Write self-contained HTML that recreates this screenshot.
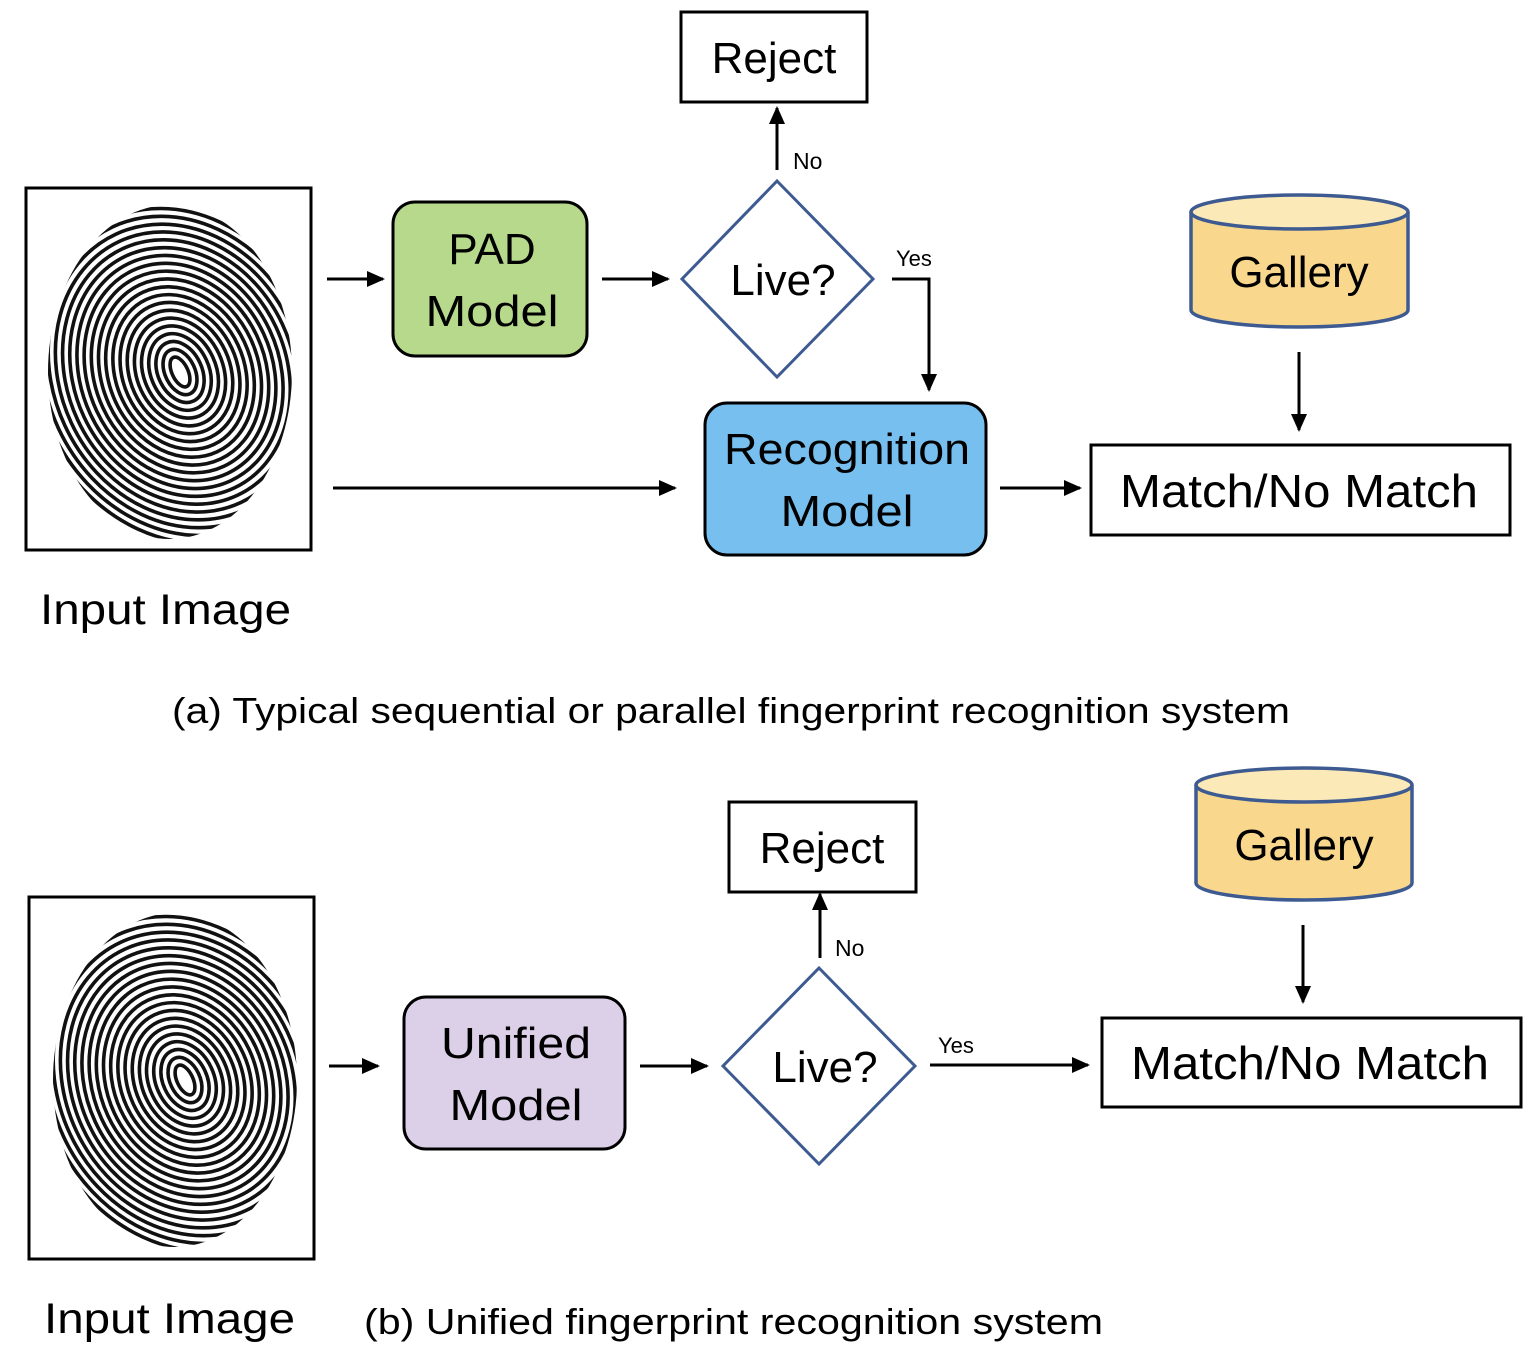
<!DOCTYPE html>
<html><head><meta charset="utf-8"><style>
html,body{margin:0;padding:0;background:#fff}
svg{display:block}
text{font-family:"Liberation Sans","DejaVu Sans",sans-serif;fill:#000}
</style></head><body>
<svg width="1534" height="1366" viewBox="0 0 1534 1366" xmlns="http://www.w3.org/2000/svg">
<defs>
<marker id="ah" markerWidth="18" markerHeight="18" refX="16" refY="9" orient="auto" markerUnits="userSpaceOnUse" viewBox="0 0 18 18">
<path d="M0,1 L18,9 L0,17 z" fill="#000"/>
</marker>
<clipPath id="fpc"><ellipse cx="0" cy="0" rx="122" ry="167"/></clipPath>
<g id="fp">
<g clip-path="url(#fpc)" fill="none" stroke="#111" stroke-width="3.6">
<g transform="translate(10,0) rotate(-25)">
<ellipse rx="8" ry="16"/><ellipse rx="15" ry="24"/><ellipse rx="22" ry="32"/><ellipse rx="29" ry="40"/>
<ellipse rx="36" ry="48"/><ellipse rx="43" ry="56"/><ellipse rx="50" ry="64"/><ellipse rx="57" ry="72"/>
<ellipse rx="64" ry="80"/><ellipse rx="71" ry="88"/><ellipse rx="78" ry="96"/><ellipse rx="85" ry="104"/>
<ellipse rx="92" ry="112"/><ellipse rx="99" ry="120"/><ellipse rx="106" ry="128"/><ellipse rx="113" ry="136"/>
<ellipse rx="120" ry="144"/><ellipse rx="127" ry="152"/><ellipse rx="134" ry="160"/><ellipse rx="141" ry="168"/>
<ellipse rx="148" ry="176"/><ellipse rx="155" ry="184"/><ellipse rx="162" ry="192"/><ellipse rx="169" ry="200"/>
<ellipse rx="176" ry="208"/><ellipse rx="183" ry="216"/><ellipse rx="190" ry="224"/><ellipse rx="197" ry="232"/>
</g>
</g>
</g>
</defs>

<!-- ===== (a) ===== -->
<rect x="26" y="188" width="285" height="362" fill="#fff" stroke="#000" stroke-width="3"/>
<use href="#fp" transform="translate(170,372)"/>
<text x="40" y="624" font-size="43" textLength="251" lengthAdjust="spacingAndGlyphs">Input Image</text>

<line x1="327" y1="279" x2="383" y2="279" stroke="#000" stroke-width="3" marker-end="url(#ah)"/>
<rect x="393" y="202" width="194" height="154" rx="22" fill="#b6d98c" stroke="#000" stroke-width="3"/>
<text x="492" y="264" font-size="44" text-anchor="middle">PAD</text>
<text x="492" y="326" font-size="44" text-anchor="middle" textLength="133" lengthAdjust="spacingAndGlyphs">Model</text>

<line x1="602" y1="279" x2="668" y2="279" stroke="#000" stroke-width="3" marker-end="url(#ah)"/>
<polygon points="777,181 873,279 777,377 682,279" fill="#fff" stroke="#3d5a91" stroke-width="3"/>
<text x="783" y="295" font-size="44" text-anchor="middle">Live?</text>

<line x1="777" y1="170" x2="777" y2="108" stroke="#000" stroke-width="3" marker-end="url(#ah)"/>
<text x="793" y="169" font-size="23">No</text>
<rect x="681" y="12" width="186" height="90" fill="#fff" stroke="#000" stroke-width="3"/>
<text x="774" y="73" font-size="44" text-anchor="middle">Reject</text>

<text x="896" y="266" font-size="22">Yes</text>
<polyline points="892,279 929,279 929,390" fill="none" stroke="#000" stroke-width="3" marker-end="url(#ah)"/>

<line x1="333" y1="488" x2="675" y2="488" stroke="#000" stroke-width="3" marker-end="url(#ah)"/>
<rect x="705" y="403" width="281" height="152" rx="22" fill="#77bfee" stroke="#000" stroke-width="3"/>
<text x="847" y="464" font-size="44" text-anchor="middle" textLength="246" lengthAdjust="spacingAndGlyphs">Recognition</text>
<text x="847" y="526" font-size="44" text-anchor="middle" textLength="133" lengthAdjust="spacingAndGlyphs">Model</text>

<line x1="1000" y1="488" x2="1080" y2="488" stroke="#000" stroke-width="3" marker-end="url(#ah)"/>
<rect x="1091" y="445" width="419" height="90" fill="#fff" stroke="#000" stroke-width="3"/>
<text x="1299" y="507" font-size="46" text-anchor="middle" textLength="358" lengthAdjust="spacingAndGlyphs">Match/No Match</text>

<path d="M1191,212 L1191,310 A108.5,17 0 0 0 1408,310 L1408,212" fill="#f9d88e" stroke="#3d5a91" stroke-width="3.5"/>
<ellipse cx="1299.5" cy="212" rx="108.5" ry="17" fill="#fbe9b7" stroke="#3d5a91" stroke-width="3.5"/>
<text x="1299" y="287" font-size="44" text-anchor="middle">Gallery</text>
<line x1="1299" y1="352" x2="1299" y2="430" stroke="#000" stroke-width="3" marker-end="url(#ah)"/>

<text x="172" y="723" font-size="36" textLength="1118" lengthAdjust="spacingAndGlyphs">(a) Typical sequential or parallel fingerprint recognition system</text>

<!-- ===== (b) ===== -->
<rect x="29" y="897" width="285" height="362" fill="#fff" stroke="#000" stroke-width="3"/>
<use href="#fp" transform="translate(175,1080)"/>
<text x="44" y="1333" font-size="43" textLength="251" lengthAdjust="spacingAndGlyphs">Input Image</text>

<line x1="329" y1="1066" x2="378" y2="1066" stroke="#000" stroke-width="3" marker-end="url(#ah)"/>
<rect x="404" y="997" width="221" height="152" rx="22" fill="#dcd0e9" stroke="#000" stroke-width="3"/>
<text x="516" y="1058" font-size="44" text-anchor="middle" textLength="150" lengthAdjust="spacingAndGlyphs">Unified</text>
<text x="516" y="1120" font-size="44" text-anchor="middle" textLength="133" lengthAdjust="spacingAndGlyphs">Model</text>

<line x1="640" y1="1066" x2="707" y2="1066" stroke="#000" stroke-width="3" marker-end="url(#ah)"/>
<polygon points="819,968 915,1066 819,1164 723,1066" fill="#fff" stroke="#3d5a91" stroke-width="3"/>
<text x="825" y="1082" font-size="44" text-anchor="middle">Live?</text>

<line x1="820" y1="958" x2="820" y2="894" stroke="#000" stroke-width="3" marker-end="url(#ah)"/>
<text x="835" y="956" font-size="23">No</text>
<rect x="729" y="802" width="187" height="90" fill="#fff" stroke="#000" stroke-width="3"/>
<text x="822" y="863" font-size="44" text-anchor="middle">Reject</text>

<text x="938" y="1053" font-size="22">Yes</text>
<line x1="930" y1="1065" x2="1088" y2="1065" stroke="#000" stroke-width="3" marker-end="url(#ah)"/>
<rect x="1102" y="1018" width="419" height="89" fill="#fff" stroke="#000" stroke-width="3"/>
<text x="1310" y="1079" font-size="46" text-anchor="middle" textLength="358" lengthAdjust="spacingAndGlyphs">Match/No Match</text>

<path d="M1196,785 L1196,883 A108,17 0 0 0 1412,883 L1412,785" fill="#f9d88e" stroke="#3d5a91" stroke-width="3.5"/>
<ellipse cx="1304" cy="785" rx="108" ry="17" fill="#fbe9b7" stroke="#3d5a91" stroke-width="3.5"/>
<text x="1304" y="860" font-size="44" text-anchor="middle">Gallery</text>
<line x1="1303" y1="925" x2="1303" y2="1002" stroke="#000" stroke-width="3" marker-end="url(#ah)"/>

<text x="364" y="1334" font-size="36" textLength="739" lengthAdjust="spacingAndGlyphs">(b) Unified fingerprint recognition system</text>
</svg>
</body></html>
